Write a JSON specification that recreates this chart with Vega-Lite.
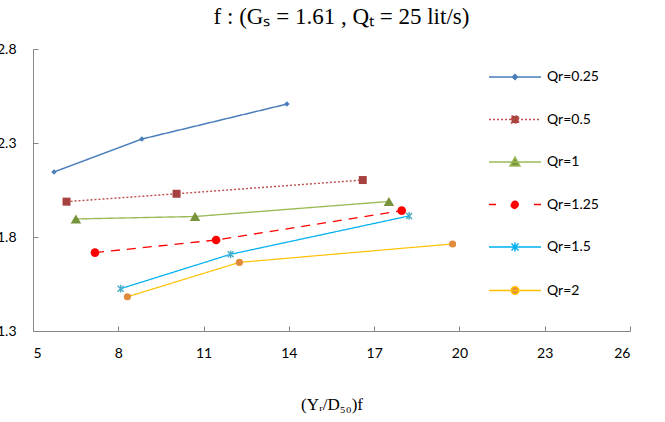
{
  "$schema": "https://vega.github.io/schema/vega-lite/v6.json",
  "width": 597,
  "height": 282,
  "autosize": {"type": "none"},
  "padding": {"left": 33, "top": 49, "right": 35, "bottom": 91},
  "background": "white",
  "title": {
    "text": "f : (Gₛ  = 1.61  , Qₜ  = 25 lit/s)",
    "font": "Liberation Serif",
    "fontSize": 23,
    "fontWeight": "normal",
    "color": "#000000",
    "anchor": "middle",
    "dx": 10,
    "offset": 13
  },
  "data": {
    "values": [
      {"series": "Qr=0.25", "x": 5.74, "y": 2.146},
      {"series": "Qr=0.25", "x": 8.83, "y": 2.321},
      {"series": "Qr=0.25", "x": 13.93, "y": 2.507},
      {"series": "Qr=0.5", "x": 6.18, "y": 1.988},
      {"series": "Qr=0.5", "x": 10.05, "y": 2.03},
      {"series": "Qr=0.5", "x": 16.6, "y": 2.103},
      {"series": "Qr=1", "x": 6.51, "y": 1.896},
      {"series": "Qr=1", "x": 10.7, "y": 1.909},
      {"series": "Qr=1", "x": 17.52, "y": 1.989},
      {"series": "Qr=1.25", "x": 7.18, "y": 1.717},
      {"series": "Qr=1.25", "x": 11.44, "y": 1.784},
      {"series": "Qr=1.25", "x": 17.97, "y": 1.94},
      {"series": "Qr=1.5", "x": 8.08, "y": 1.525},
      {"series": "Qr=1.5", "x": 11.95, "y": 1.708},
      {"series": "Qr=1.5", "x": 18.23, "y": 1.912},
      {"series": "Qr=2", "x": 8.32, "y": 1.482},
      {"series": "Qr=2", "x": 12.26, "y": 1.665},
      {"series": "Qr=2", "x": 19.76, "y": 1.763}
    ]
  },
  "encoding": {
    "x": {
      "field": "x",
      "type": "quantitative",
      "scale": {"domain": [5, 26], "nice": false, "zero": false},
      "axis": {
        "values": [5, 8, 11, 14, 17, 20, 23, 26],
        "title": "(Yᵣ/D₅₀)f",
        "titleFont": "Liberation Serif",
        "titleFontSize": 17,
        "titleFontWeight": "normal",
        "titleColor": "#000000",
        "titlePadding": 36,
        "labelFont": "Lato",
        "labelFontSize": 14,
        "labelColor": "#000000",
        "labelPadding": 20,
        "tickSize": -5,
        "tickColor": "#868686",
        "domainColor": "#868686",
        "grid": false
      }
    },
    "y": {
      "field": "y",
      "type": "quantitative",
      "scale": {"domain": [1.3, 2.8], "nice": false, "zero": false},
      "axis": {
        "values": [1.3, 1.8, 2.3, 2.8],
        "format": ".1f",
        "title": null,
        "labelFont": "Lato",
        "labelFontSize": 14,
        "labelColor": "#000000",
        "labelPadding": 22,
        "tickSize": -5,
        "tickColor": "#868686",
        "domainColor": "#868686",
        "grid": false
      }
    }
  },
  "layer": [
    {
      "mark": {"type": "line", "clip": true},
      "encoding": {
        "stroke": {
          "field": "series",
          "type": "nominal",
          "scale": {
            "domain": ["Qr=0.25", "Qr=0.5", "Qr=1", "Qr=1.25", "Qr=1.5", "Qr=2"],
            "range": ["#4A7EBB", "#C0504D", "#9BBB59", "#FF0000", "#00B0F0", "#FFC000"]
          },
          "legend": null
        },
        "strokeDash": {
          "field": "series",
          "type": "nominal",
          "scale": {
            "domain": ["Qr=0.25", "Qr=0.5", "Qr=1", "Qr=1.25", "Qr=1.5", "Qr=2"],
            "range": [[1, 0], [2, 2], [1, 0], [9, 7], [1, 0], [1, 0]]
          },
          "legend": null
        },
        "strokeWidth": {
          "field": "series",
          "type": "ordinal",
          "scale": {
            "domain": ["Qr=0.25", "Qr=0.5", "Qr=1", "Qr=1.25", "Qr=1.5", "Qr=2"],
            "range": [1.5, 1.2, 1.5, 2.5, 1.5, 1.5]
          },
          "legend": null
        }
      }
    },
    {
      "mark": {"type": "point", "filled": true, "opacity": 1, "strokeWidth": 1.4},
      "encoding": {
        "fill": {
          "field": "series",
          "type": "nominal",
          "scale": {
            "domain": ["Qr=0.25", "Qr=0.5", "Qr=1", "Qr=1.25", "Qr=1.5", "Qr=2"],
            "range": ["#4A7EBB", "#A5423F", "#77933C", "#FF0000", "#4BACC6", "#E08A3C"]
          },
          "legend": null
        },
        "shape": {
          "condition": [
            {"test": "datum.series==='Qr=0.25'", "value": "diamond"},
            {"test": "datum.series==='Qr=0.5'", "value": "square"},
            {"test": "datum.series==='Qr=1'", "value": "triangle-up"},
            {"test": "datum.series==='Qr=1.5'", "value": "M-1,-1L1,1M-1,1L1,-1M0,-1.3L0,1.3"}
          ],
          "value": "circle"
        },
        "size": {
          "condition": [
            {"test": "datum.series==='Qr=0.25'", "value": 30},
            {"test": "datum.series==='Qr=0.5'", "value": 64},
            {"test": "datum.series==='Qr=1'", "value": 110},
            {"test": "datum.series==='Qr=1.25'", "value": 75},
            {"test": "datum.series==='Qr=1.5'", "value": 36}
          ],
          "value": 50
        },
        "stroke": {
          "condition": {"test": "datum.series==='Qr=1.5'", "value": "#4BACC6"},
          "value": "transparent"
        }
      }
    },
    {
      "transform": [{"filter": "false"}],
      "mark": {"type": "point", "filled": true, "opacity": 1, "size": 400, "strokeWidth": 1.5},
      "encoding": {
        "shape": {
          "field": "series",
          "type": "nominal",
          "scale": {
            "domain": ["Qr=0.25", "Qr=0.5", "Qr=1", "Qr=1.25", "Qr=1.5", "Qr=2"],
            "range": [
              "M-2.6,0L2.6,0M0,-0.25L0.25,0L0,0.25L-0.25,0Z",
              "M-2.6,0L2.6,0M-0.35,-0.35L0.35,-0.35L0.35,0.35L-0.35,0.35Z",
              "M-2.6,0L2.6,0M0,-0.5L0.5,0.4L-0.5,0.4Z",
              "M-2.6,0L2.6,0M-0.4,0A0.4,0.4 0 1,0 0.4,0A0.4,0.4 0 1,0 -0.4,0Z",
              "M-2.6,0L2.6,0M-0.35,-0.35L0.35,0.35M-0.35,0.35L0.35,-0.35M0,-0.45L0,0.45",
              "M-2.6,0L2.6,0M-0.38,0A0.38,0.38 0 1,0 0.38,0A0.38,0.38 0 1,0 -0.38,0Z"
            ]
          },
          "legend": {
            "orient": "none",
            "legendX": 471,
            "legendY": 17,
            "title": null,
            "padding": 0,
            "labelFont": "Lato",
            "labelFontSize": 14,
            "labelColor": "#000000",
            "labelOffset": 21,
            "rowPadding": 24.5,
            "symbolSize": 400,
            "symbolStrokeWidth": 1.5,
            "symbolOpacity": 1
          }
        },
        "fill": {
          "field": "series",
          "type": "nominal",
          "scale": {
            "domain": ["Qr=0.25", "Qr=0.5", "Qr=1", "Qr=1.25", "Qr=1.5", "Qr=2"],
            "range": ["#4A7EBB", "#A5423F", "#77933C", "#FF0000", "transparent", "#E08A3C"]
          }
        },
        "stroke": {
          "field": "series",
          "type": "nominal",
          "scale": {
            "domain": ["Qr=0.25", "Qr=0.5", "Qr=1", "Qr=1.25", "Qr=1.5", "Qr=2"],
            "range": ["#4A7EBB", "#C0504D", "#9BBB59", "#FF0000", "#00B0F0", "#FFC000"]
          }
        },
        "strokeDash": {
          "field": "series",
          "type": "nominal",
          "scale": {
            "domain": ["Qr=0.25", "Qr=0.5", "Qr=1", "Qr=1.25", "Qr=1.5", "Qr=2"],
            "range": [[1, 0], [2, 2], [1, 0], [7, 38], [1, 0], [1, 0]]
          }
        }
      }
    }
  ],
  "resolve": {
    "scale": {"fill": "independent", "stroke": "independent", "strokeDash": "independent", "shape": "independent"}
  },
  "config": {
    "view": {"stroke": null}
  }
}
